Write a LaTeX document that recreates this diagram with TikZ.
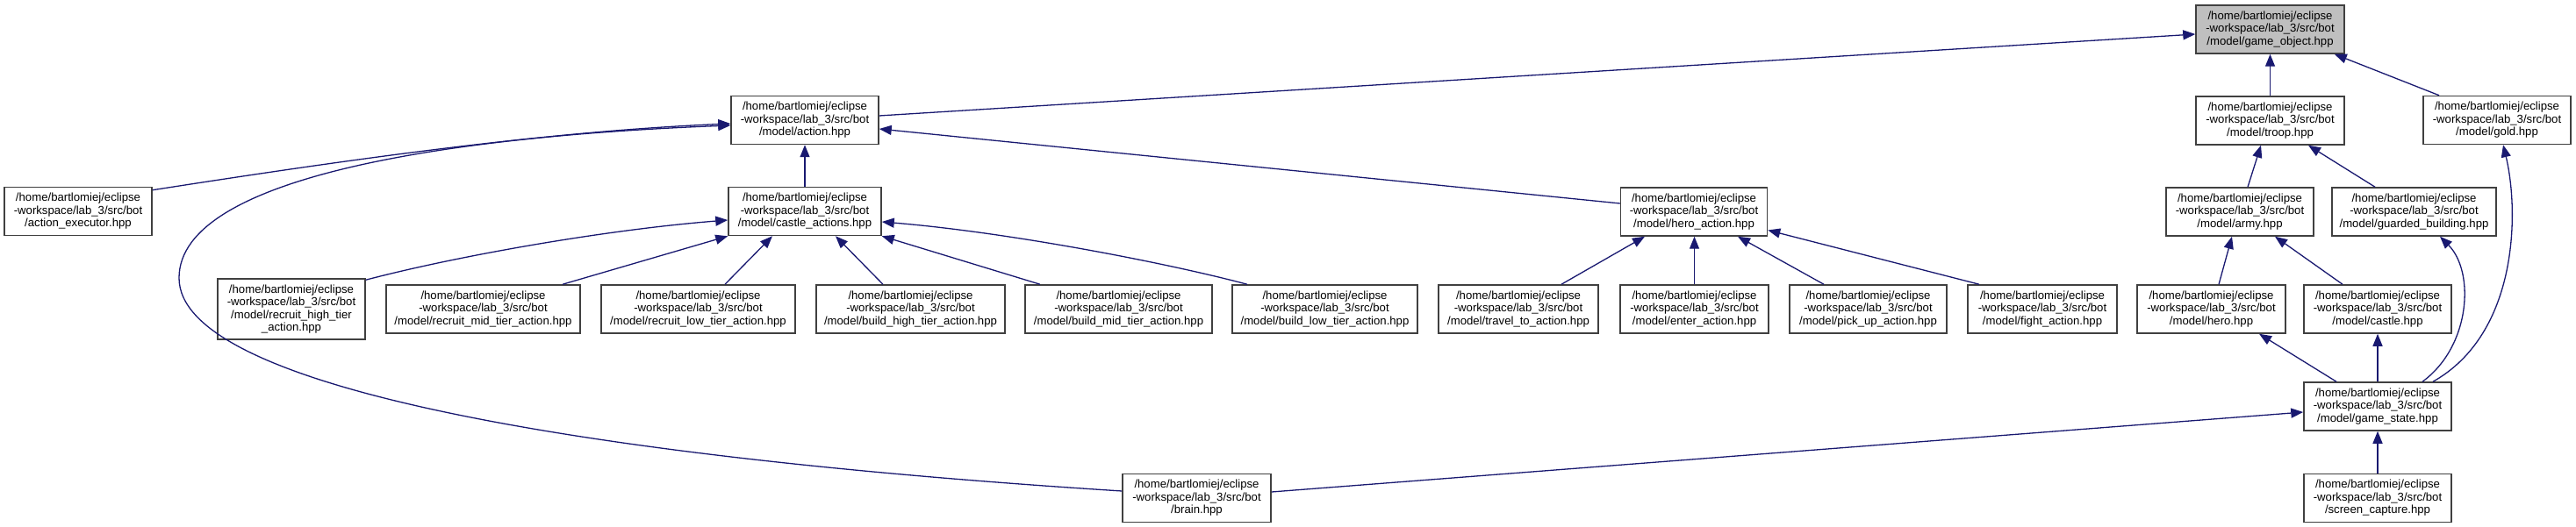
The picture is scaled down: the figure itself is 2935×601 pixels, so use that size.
\documentclass[tikz,border=0pt]{standalone}
\usepackage{fontspec}
\setmainfont{Liberation Sans}
\usetikzlibrary{arrows.meta}
\definecolor{edgeblue}{RGB}{25,25,112}
\definecolor{focusgray}{RGB}{191,191,191}
\newcommand\boxfont{\fontsize{13.17}{14.5}\selectfont}
\begin{document}
\begin{tikzpicture}[x=1pt,y=-1pt,
  box/.style={draw=black!75, line width=1.5pt, fill=white, inner sep=0pt,
    minimum height=55pt, align=center, font=\boxfont},
  edge/.style={draw=edgeblue, line width=1.3pt, -{Triangle[length=14pt,width=11pt]}}]
\useasboundingbox (0,0) rectangle (2935,601);
% row 0
\node[box, fill=focusgray, minimum width=169pt] (gobj) at (2586.5,33.5) {/home/bartlomiej/eclipse\\-workspace/lab\_3/src/bot\\/model/game\_object.hpp};
% row 1
\node[box, minimum width=168pt] (act) at (917,137) {/home/bartlomiej/eclipse\\-workspace/lab\_3/src/bot\\/model/action.hpp};
\node[box, minimum width=169pt] (troop) at (2586.5,137.5) {/home/bartlomiej/eclipse\\-workspace/lab\_3/src/bot\\/model/troop.hpp};
\node[box, minimum width=168pt] (gold) at (2845,137) {/home/bartlomiej/eclipse\\-workspace/lab\_3/src/bot\\/model/gold.hpp};
% row 2
\node[box, minimum width=168pt] (aexec) at (89,241) {/home/bartlomiej/eclipse\\-workspace/lab\_3/src/bot\\/action\_executor.hpp};
\node[box, minimum width=174pt] (castact) at (917,241) {/home/bartlomiej/eclipse\\-workspace/lab\_3/src/bot\\/model/castle\_actions.hpp};
\node[box, minimum width=167pt] (heroact) at (1930,241.5) {/home/bartlomiej/eclipse\\-workspace/lab\_3/src/bot\\/model/hero\_action.hpp};
\node[box, minimum width=168pt] (army) at (2552,241.5) {/home/bartlomiej/eclipse\\-workspace/lab\_3/src/bot\\/model/army.hpp};
\node[box, minimum width=187pt] (guard) at (2750.5,241.5) {/home/bartlomiej/eclipse\\-workspace/lab\_3/src/bot\\/model/guarded\_building.hpp};
% row 3
\node[box, minimum width=168pt, minimum height=69pt] (rhigh) at (332,352.5) {/home/bartlomiej/eclipse\\-workspace/lab\_3/src/bot\\/model/recruit\_high\_tier\\\_action.hpp};
\node[box, minimum width=221pt] (rmid) at (550.5,352.5) {/home/bartlomiej/eclipse\\-workspace/lab\_3/src/bot\\/model/recruit\_mid\_tier\_action.hpp};
\node[box, minimum width=221pt] (rlow) at (795.5,352.5) {/home/bartlomiej/eclipse\\-workspace/lab\_3/src/bot\\/model/recruit\_low\_tier\_action.hpp};
\node[box, minimum width=215pt] (bhigh) at (1037.5,352.5) {/home/bartlomiej/eclipse\\-workspace/lab\_3/src/bot\\/model/build\_high\_tier\_action.hpp};
\node[box, minimum width=213pt] (bmid) at (1274.5,352.5) {/home/bartlomiej/eclipse\\-workspace/lab\_3/src/bot\\/model/build\_mid\_tier\_action.hpp};
\node[box, minimum width=211pt] (blow) at (1509.5,352.5) {/home/bartlomiej/eclipse\\-workspace/lab\_3/src/bot\\/model/build\_low\_tier\_action.hpp};
\node[box, minimum width=182pt] (travel) at (1730,352.5) {/home/bartlomiej/eclipse\\-workspace/lab\_3/src/bot\\/model/travel\_to\_action.hpp};
\node[box, minimum width=169pt] (enter) at (1930.5,352.5) {/home/bartlomiej/eclipse\\-workspace/lab\_3/src/bot\\/model/enter\_action.hpp};
\node[box, minimum width=179pt] (pickup) at (2128.5,352.5) {/home/bartlomiej/eclipse\\-workspace/lab\_3/src/bot\\/model/pick\_up\_action.hpp};
\node[box, minimum width=170pt] (fight) at (2327,352.5) {/home/bartlomiej/eclipse\\-workspace/lab\_3/src/bot\\/model/fight\_action.hpp};
\node[box, minimum width=169pt] (hero) at (2519.5,352.5) {/home/bartlomiej/eclipse\\-workspace/lab\_3/src/bot\\/model/hero.hpp};
\node[box, minimum width=168pt] (castle) at (2709,352.5) {/home/bartlomiej/eclipse\\-workspace/lab\_3/src/bot\\/model/castle.hpp};
% row 4
\node[box, minimum width=168pt] (gstate) at (2709,463.5) {/home/bartlomiej/eclipse\\-workspace/lab\_3/src/bot\\/model/game\_state.hpp};
% row 5
\node[box, minimum width=169pt] (brain) at (1363.5,568) {/home/bartlomiej/eclipse\\-workspace/lab\_3/src/bot\\/brain.hpp};
\node[box, minimum width=168pt] (scap) at (2709,568) {/home/bartlomiej/eclipse\\-workspace/lab\_3/src/bot\\/screen\_capture.hpp};

% edges (child -> included parent)
\draw[edge] ([shift={(0,-5)}]act.east) -- ([shift={(0,5.5)}]gobj.west);
\draw[edge] (troop.north) -- (troop.north |- gobj.south);
\draw[edge] ([shift={(-66,0)}]gold.north) -- ([shift={(-12,0)}]gobj.south east);
\draw[edge] ([shift={(0,4)}]aexec.north east) .. controls (390,183) and (620,150) .. ([shift={(0,4)}]act.west);
\draw[edge] ([shift={(0,-8)}]brain.west) .. controls (650,520) and (204,440) .. (204,317)
  .. controls (204,200) and (520,155) .. ([shift={(0,6)}]act.west);
\draw[edge] (castact.north) -- (act.south);
\draw[edge] ([shift={(0,-9.5)}]heroact.west) -- ([shift={(0,10)}]act.east);
\draw[edge] ([shift={(0,2)}]rhigh.north east) .. controls (520,292) and (690,262) .. ([shift={(0,10)}]castact.west);
\draw[edge] ([shift={(90.5,0)}]rmid.north) -- (castact.south west);
\draw[edge] ([shift={(30.5,0)}]rlow.north) -- ([shift={(-37,0)}]castact.south);
\draw[edge] ([shift={(-31.5,0)}]bhigh.north) -- ([shift={(35,0)}]castact.south);
\draw[edge] ([shift={(-89.5,0)}]bmid.north) -- (castact.south east);
\draw[edge] ([shift={(-88.5,0)}]blow.north) .. controls (1330,300) and (1150,265) .. ([shift={(0,12)}]castact.east);
\draw[edge] ([shift={(49,0)}]travel.north) -- ([shift={(-56,0)}]heroact.south);
\draw[edge] (enter.north) -- (enter.north |- heroact.south);
\draw[edge] ([shift={(-50.5,0)}]pickup.north) -- ([shift={(50,0)}]heroact.south);
\draw[edge] ([shift={(-72,0)}]fight.north) -- ([shift={(0,21)}]heroact.east);
\draw[edge] ([shift={(9,0)}]army.north) -- ([shift={(-10.5,0)}]troop.south);
\draw[edge] ([shift={(-44.5,0)}]guard.north) -- ([shift={(43.5,0)}]troop.south);
\draw[edge] ([shift={(8.5,0)}]hero.north) -- ([shift={(-9,0)}]army.south);
\draw[edge] ([shift={(-40,0)}]castle.north) -- ([shift={(40,0)}]army.south);
\draw[edge] ([shift={(-47,0)}]gstate.north) -- ([shift={(54.5,0)}]hero.south);
\draw[edge] (gstate.north) -- (castle.south);
\draw[edge] ([shift={(51,0)}]gstate.north) .. controls (2815,395) and (2820,310) .. ([shift={(29.5,0)}]guard.south);
\draw[edge] ([shift={(63,0)}]gstate.north) .. controls (2870,380) and (2870,240) .. ([shift={(7,0)}]gold.south);
\draw[edge] (scap.north) -- (gstate.south);
\draw[edge] ([shift={(0,-7)}]brain.east) -- ([shift={(0,6.5)}]gstate.west);
\end{tikzpicture}
\end{document}
